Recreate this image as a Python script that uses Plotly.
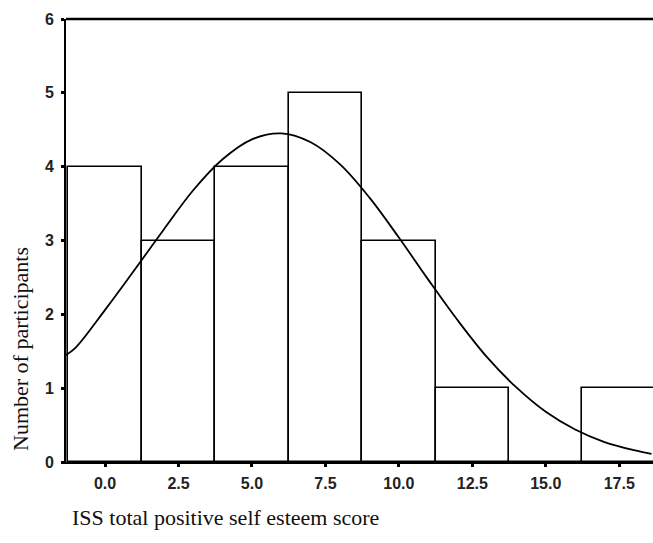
import plotly.graph_objects as go

# Histogram data (bin centres and counts)
bin_centers = [0.0, 2.5, 5.0, 7.5, 10.0, 12.5, 15.0, 17.5]
counts = [4, 3, 4, 5, 3, 1, 0, 1]
bin_width = 2.5

# Normal curve
curve_x = [-1.33, -1, 0, 1, 2, 3, 4, 5, 6, 7, 8, 9, 10, 11, 12, 13, 14, 15, 16, 17, 18, 18.6]
curve_y = [1.45, 1.55, 2.06, 2.6, 3.15, 3.68, 4.1, 4.37, 4.45, 4.33, 4.03, 3.58, 3.04, 2.47,
           1.92, 1.42, 1.01, 0.68, 0.44, 0.27, 0.16, 0.11]

x_ticks = [0.0, 2.5, 5.0, 7.5, 10.0, 12.5, 15.0, 17.5]
x_tick_labels = ["0.0", "2.5", "5.0", "7.5", "10.0", "12.5", "15.0", "17.5"]
y_ticks = [0, 1, 2, 3, 4, 5, 6]

fig = go.Figure()
fig.add_trace(go.Bar(
    x=bin_centers, y=counts, width=[bin_width] * len(counts),
    marker=dict(color="white", line=dict(color="black", width=1.6)),
    showlegend=False, hoverinfo="skip",
))
fig.add_trace(go.Scatter(
    x=curve_x, y=curve_y, mode="lines", line=dict(color="black", width=1.8, shape="spline"),
    showlegend=False,
))

tickfont = dict(family="Liberation Sans", size=16, color="#222", weight="bold")

fig.update_layout(
    width=653, height=543,
    margin=dict(l=66, r=0, t=19, b=81),
    paper_bgcolor="white", plot_bgcolor="white",
    font=dict(family="Liberation Sans", color="#222", size=16),
    xaxis=dict(
        range=[-1.33, 18.65], tickvals=x_ticks, ticktext=x_tick_labels,
        showgrid=False, zeroline=False, showline=True, linecolor="black", linewidth=2,
        ticks="outside", ticklen=3, tickwidth=3, tickcolor="black",
        tickfont=tickfont, ticklabelstandoff=3,
    ),
    yaxis=dict(
        range=[0, 6], tickvals=y_ticks,
        showgrid=False, zeroline=False, showline=True, linecolor="black", linewidth=2,
        ticks="outside", ticklen=3, tickwidth=3, tickcolor="black",
        tickfont=tickfont, ticklabelstandoff=4,
    ),
    bargap=0,
    shapes=[dict(type="line", xref="paper", yref="paper", x0=0, x1=1, y0=1, y1=1,
                 line=dict(color="black", width=2.5))],
    annotations=[
        dict(text="ISS total positive self esteem score", xref="paper", yref="paper",
             x=(70 - 66) / 587, y=-(517 - 462) / 443, xanchor="left", yanchor="middle",
             showarrow=False, font=dict(family="Liberation Serif, Times New Roman, serif", size=22, color="#111")),
        dict(text="Number of participants", xref="paper", yref="paper",
             x=-(66 - 20) / 587, y=(462 - 349) / 443, xanchor="center", yanchor="middle",
             textangle=-90, showarrow=False,
             font=dict(family="Liberation Serif, Times New Roman, serif", size=22, color="#111")),
    ],
)

fig.write_html("out.html")
